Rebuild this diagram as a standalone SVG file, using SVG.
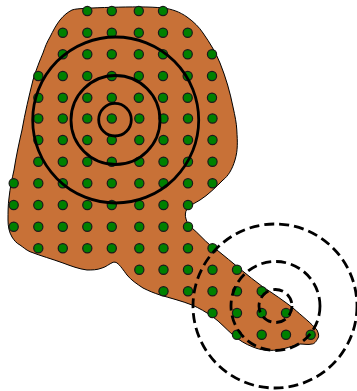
<svg xmlns="http://www.w3.org/2000/svg" width="357" height="391" viewBox="0 0 357 391">
<style>
.d{fill:#008000;stroke:#1a1a1a;stroke-width:1.200}
.c{fill:none;stroke:#000;stroke-width:2.800}
.x{fill:none;stroke:#000;stroke-width:2.800;stroke-dasharray:10 5}
</style>
<defs><circle id="p" class="d" r="4.600"/></defs>
<path id="land" fill="#c87137" stroke="#000" stroke-width="1" d="M83 8.500C92 8 102 7.500 112 7.300C130 6.800 150 6.500 163 8C172 9 180 12 187 17C194 22 199 27 203 33C210 43 216 53 220 63C226 78 230 92 233 107C235 116 236.500 123 236.800 130C237.500 142 238 150 235 160C232 170 228 176 223 180C216 187 208 195 200 200C195 203 189 206 187 209C185 212 185 216 186 219C187 223 189 226 192 228C198 233 204 240 210 245C214 248 216 249 217 250C232 262 248 276 263 287C274 294 284 301 293 308C302 316 311 323 317 330C319 334 319 337 318 338C316 342 314 344 312 344C308 345 304 344 300 344C292 346 285 349 277 350C268 351 260 350 253 347C245 344 239 340 233 335C226 329 220 322 213 317C206 312 199 308 192 305C182 301 170 298 160 295C154 293 149 291 143 288C137 284 131 280 127 275C124 271 120 265 117 263C116 262 114 262 113 262.300C109 264 106 267 102 268C97 270 92 270 87 270C79 269 71 266 63 263C52 259 41 256 30 251.700C26 250 23 247 20 245C16 243 14 240 12 237C9 232 8 226 8 220C8 213 8 205 9 198C10 188 12 179 14 170C16 157 19 143 22 130C25 113 29 96 33 80C36 70 40 60 43 53C45 47 47 42 50 37C53 31 56 25 60 20C64 15 68 12 72 10C75 9 79 8.700 83 8.500Z"/>
<g id="dots">
<use href="#p" x="87.300" y="11"/><use href="#p" x="111.800" y="11"/><use href="#p" x="138.800" y="11"/><use href="#p" x="163" y="11"/>
<use href="#p" x="62.800" y="32.700"/><use href="#p" x="87.300" y="32.700"/><use href="#p" x="111.800" y="32.700"/><use href="#p" x="138.800" y="32.700"/><use href="#p" x="163" y="32.700"/><use href="#p" x="187.700" y="32.700"/>
<use href="#p" x="62.800" y="54.300"/><use href="#p" x="87.300" y="54.300"/><use href="#p" x="111.800" y="54.300"/><use href="#p" x="138.800" y="54.300"/><use href="#p" x="163" y="54.300"/><use href="#p" x="187.700" y="54.300"/><use href="#p" x="212" y="54.300"/>
<use href="#p" x="38.300" y="76"/><use href="#p" x="62.800" y="76"/><use href="#p" x="87.300" y="76"/><use href="#p" x="111.800" y="76"/><use href="#p" x="138.800" y="76"/><use href="#p" x="163" y="76"/><use href="#p" x="187.700" y="76"/><use href="#p" x="212" y="76"/>
<use href="#p" x="38.300" y="97.700"/><use href="#p" x="62.800" y="97.700"/><use href="#p" x="87.300" y="97.700"/><use href="#p" x="111.800" y="97.700"/><use href="#p" x="138.800" y="97.700"/><use href="#p" x="163" y="97.700"/><use href="#p" x="187.700" y="97.700"/><use href="#p" x="212" y="97.700"/>
<use href="#p" x="38.300" y="118.500"/><use href="#p" x="62.800" y="118.500"/><use href="#p" x="87.300" y="118.500"/><use href="#p" x="111.800" y="118.500"/><use href="#p" x="139.300" y="118.500"/><use href="#p" x="163.500" y="118.500"/><use href="#p" x="188" y="118.500"/><use href="#p" x="212.500" y="118.500"/>
<use href="#p" x="38.300" y="140"/><use href="#p" x="62.800" y="140"/><use href="#p" x="87.300" y="140"/><use href="#p" x="111.800" y="140"/><use href="#p" x="139.300" y="140"/><use href="#p" x="163.500" y="140"/><use href="#p" x="188" y="140"/><use href="#p" x="212.500" y="140"/>
<use href="#p" x="38.300" y="161.700"/><use href="#p" x="62.800" y="161.700"/><use href="#p" x="87.300" y="161.700"/><use href="#p" x="111.800" y="161.700"/><use href="#p" x="139.300" y="161.700"/><use href="#p" x="163.500" y="161.700"/><use href="#p" x="188" y="161.700"/><use href="#p" x="212.500" y="161.700"/>
<use href="#p" x="13.700" y="183.300"/><use href="#p" x="38.300" y="183.300"/><use href="#p" x="62.800" y="183.300"/><use href="#p" x="87.300" y="183.300"/><use href="#p" x="111.800" y="183.300"/><use href="#p" x="139.300" y="183.300"/><use href="#p" x="163.500" y="183.300"/><use href="#p" x="188" y="183.300"/><use href="#p" x="212.500" y="183.300"/>
<use href="#p" x="13.700" y="205"/><use href="#p" x="38.300" y="205"/><use href="#p" x="62.800" y="205"/><use href="#p" x="87.300" y="205"/><use href="#p" x="111.800" y="205"/><use href="#p" x="139.300" y="205"/><use href="#p" x="163.500" y="205"/><use href="#p" x="188" y="205"/>
<use href="#p" x="13.700" y="226.700"/><use href="#p" x="38.300" y="226.700"/><use href="#p" x="62.800" y="226.700"/><use href="#p" x="87.300" y="226.700"/><use href="#p" x="111.800" y="226.700"/><use href="#p" x="139.300" y="226.700"/><use href="#p" x="163.500" y="226.700"/><use href="#p" x="188" y="226.700"/>
<use href="#p" x="38.300" y="248.300"/><use href="#p" x="62.800" y="248.300"/><use href="#p" x="87.300" y="248.300"/><use href="#p" x="111.800" y="248.300"/><use href="#p" x="139.300" y="248.300"/><use href="#p" x="163.500" y="248.300"/><use href="#p" x="188" y="248.300"/><use href="#p" x="212.500" y="248.300"/>
<use href="#p" x="139.300" y="269.700"/><use href="#p" x="163.500" y="269.700"/><use href="#p" x="188" y="269.700"/><use href="#p" x="212.500" y="269.700"/><use href="#p" x="237" y="269.700"/>
<use href="#p" x="163.500" y="291.300"/><use href="#p" x="188" y="291.300"/><use href="#p" x="212.500" y="291.300"/><use href="#p" x="237" y="291.300"/><use href="#p" x="261.700" y="291.300"/>
<use href="#p" x="212.500" y="313"/><use href="#p" x="237" y="313"/><use href="#p" x="261.700" y="313"/><use href="#p" x="286" y="313"/>
<use href="#p" x="237" y="334.700"/><use href="#p" x="261.700" y="334.700"/><use href="#p" x="286" y="334.700"/><use href="#p" x="310.700" y="334.700"/>
</g>
<g id="solid-rings">
<circle class="c" cx="115" cy="119.700" r="16.300"/>
<circle class="c" cx="115.500" cy="120" r="44.500"/>
<circle class="c" cx="115.700" cy="120" r="83"/>
</g>
<g id="dashed-rings">
<circle class="x" cx="275.500" cy="306" r="16.500"/>
<circle class="x" cx="275.500" cy="306" r="44.500"/>
<circle class="x" cx="275" cy="306" r="82"/>
</g>
</svg>
